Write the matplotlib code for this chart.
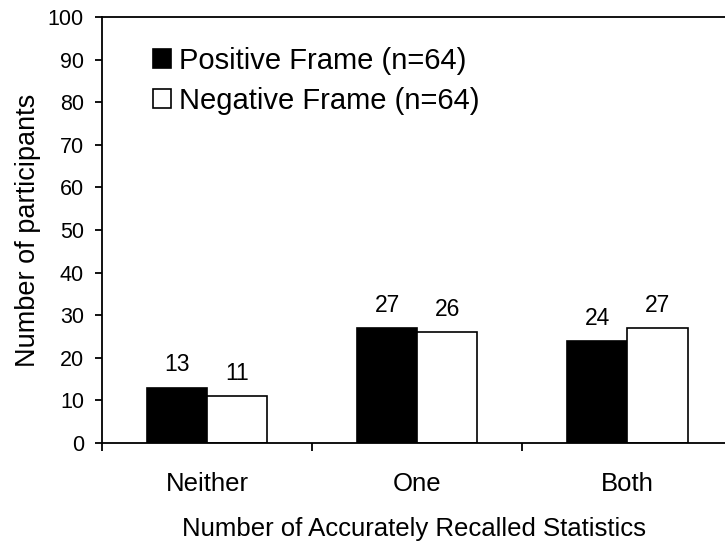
import numpy as np
import matplotlib.pyplot as plt

plt.rcParams['font.family'] = ['Liberation Sans', 'DejaVu Sans']

categories = ["Neither", "One", "Both"]
positive = [13, 27, 24]
negative = [11, 26, 27]
series_labels = ["Positive Frame (n=64)", "Negative Frame (n=64)"]

fig = plt.figure(figsize=(7.25, 5.44), dpi=100)
ax = fig.add_axes([0.1407, 0.1857, 0.8593, 0.7831])

x = np.arange(len(categories))
w = 0.2857  # excel-ish gap width 150%
b1 = ax.bar(x - w / 2, positive, w, color="black", edgecolor="black", linewidth=1.2,
            label=series_labels[0])
b2 = ax.bar(x + w / 2, negative, w, color="white", edgecolor="black", linewidth=1.2,
            label=series_labels[1])

for bars, vals in ((b1, positive), (b2, negative)):
    for r, v in zip(bars, vals):
        ax.annotate(str(v), (r.get_x() + r.get_width() / 2, v), xytext=(0, 8),
                    textcoords="offset points", ha="center", va="bottom", fontsize=16.5)

ax.set_ylim(0, 100)
ax.set_xlim(-0.5, 2.464)
ax.set_yticks(range(0, 101, 10))
ax.set_xticks([-0.5, 0.5, 1.5])
ax.set_xticklabels([])
ax.set_xticks(x, minor=True)
ax.set_xticklabels(categories, minor=True, fontsize=18.5)
ax.tick_params(axis="x", which="minor", length=0, pad=21)
ax.tick_params(axis="x", which="major", direction="out", length=6, width=1.3)
ax.tick_params(axis="y", direction="out", length=5, width=1.3, labelsize=15.5, pad=8)
ax.spines["right"].set_visible(False)
for s in ("left", "top", "bottom"):
    ax.spines[s].set_linewidth(1.3)

ax.set_xlabel("Number of Accurately Recalled Statistics", fontsize=18.5, labelpad=15)
ax.set_ylabel("Number of participants", fontsize=19.5, labelpad=5)

ax.legend(loc="upper left", bbox_to_anchor=(0.0815, 0.93), frameon=False,
          fontsize=21, handlelength=0.62, handleheight=0.62, handletextpad=0.27,
          labelspacing=0.42, borderaxespad=0, borderpad=0)

fig.savefig("out.png", dpi=100)
